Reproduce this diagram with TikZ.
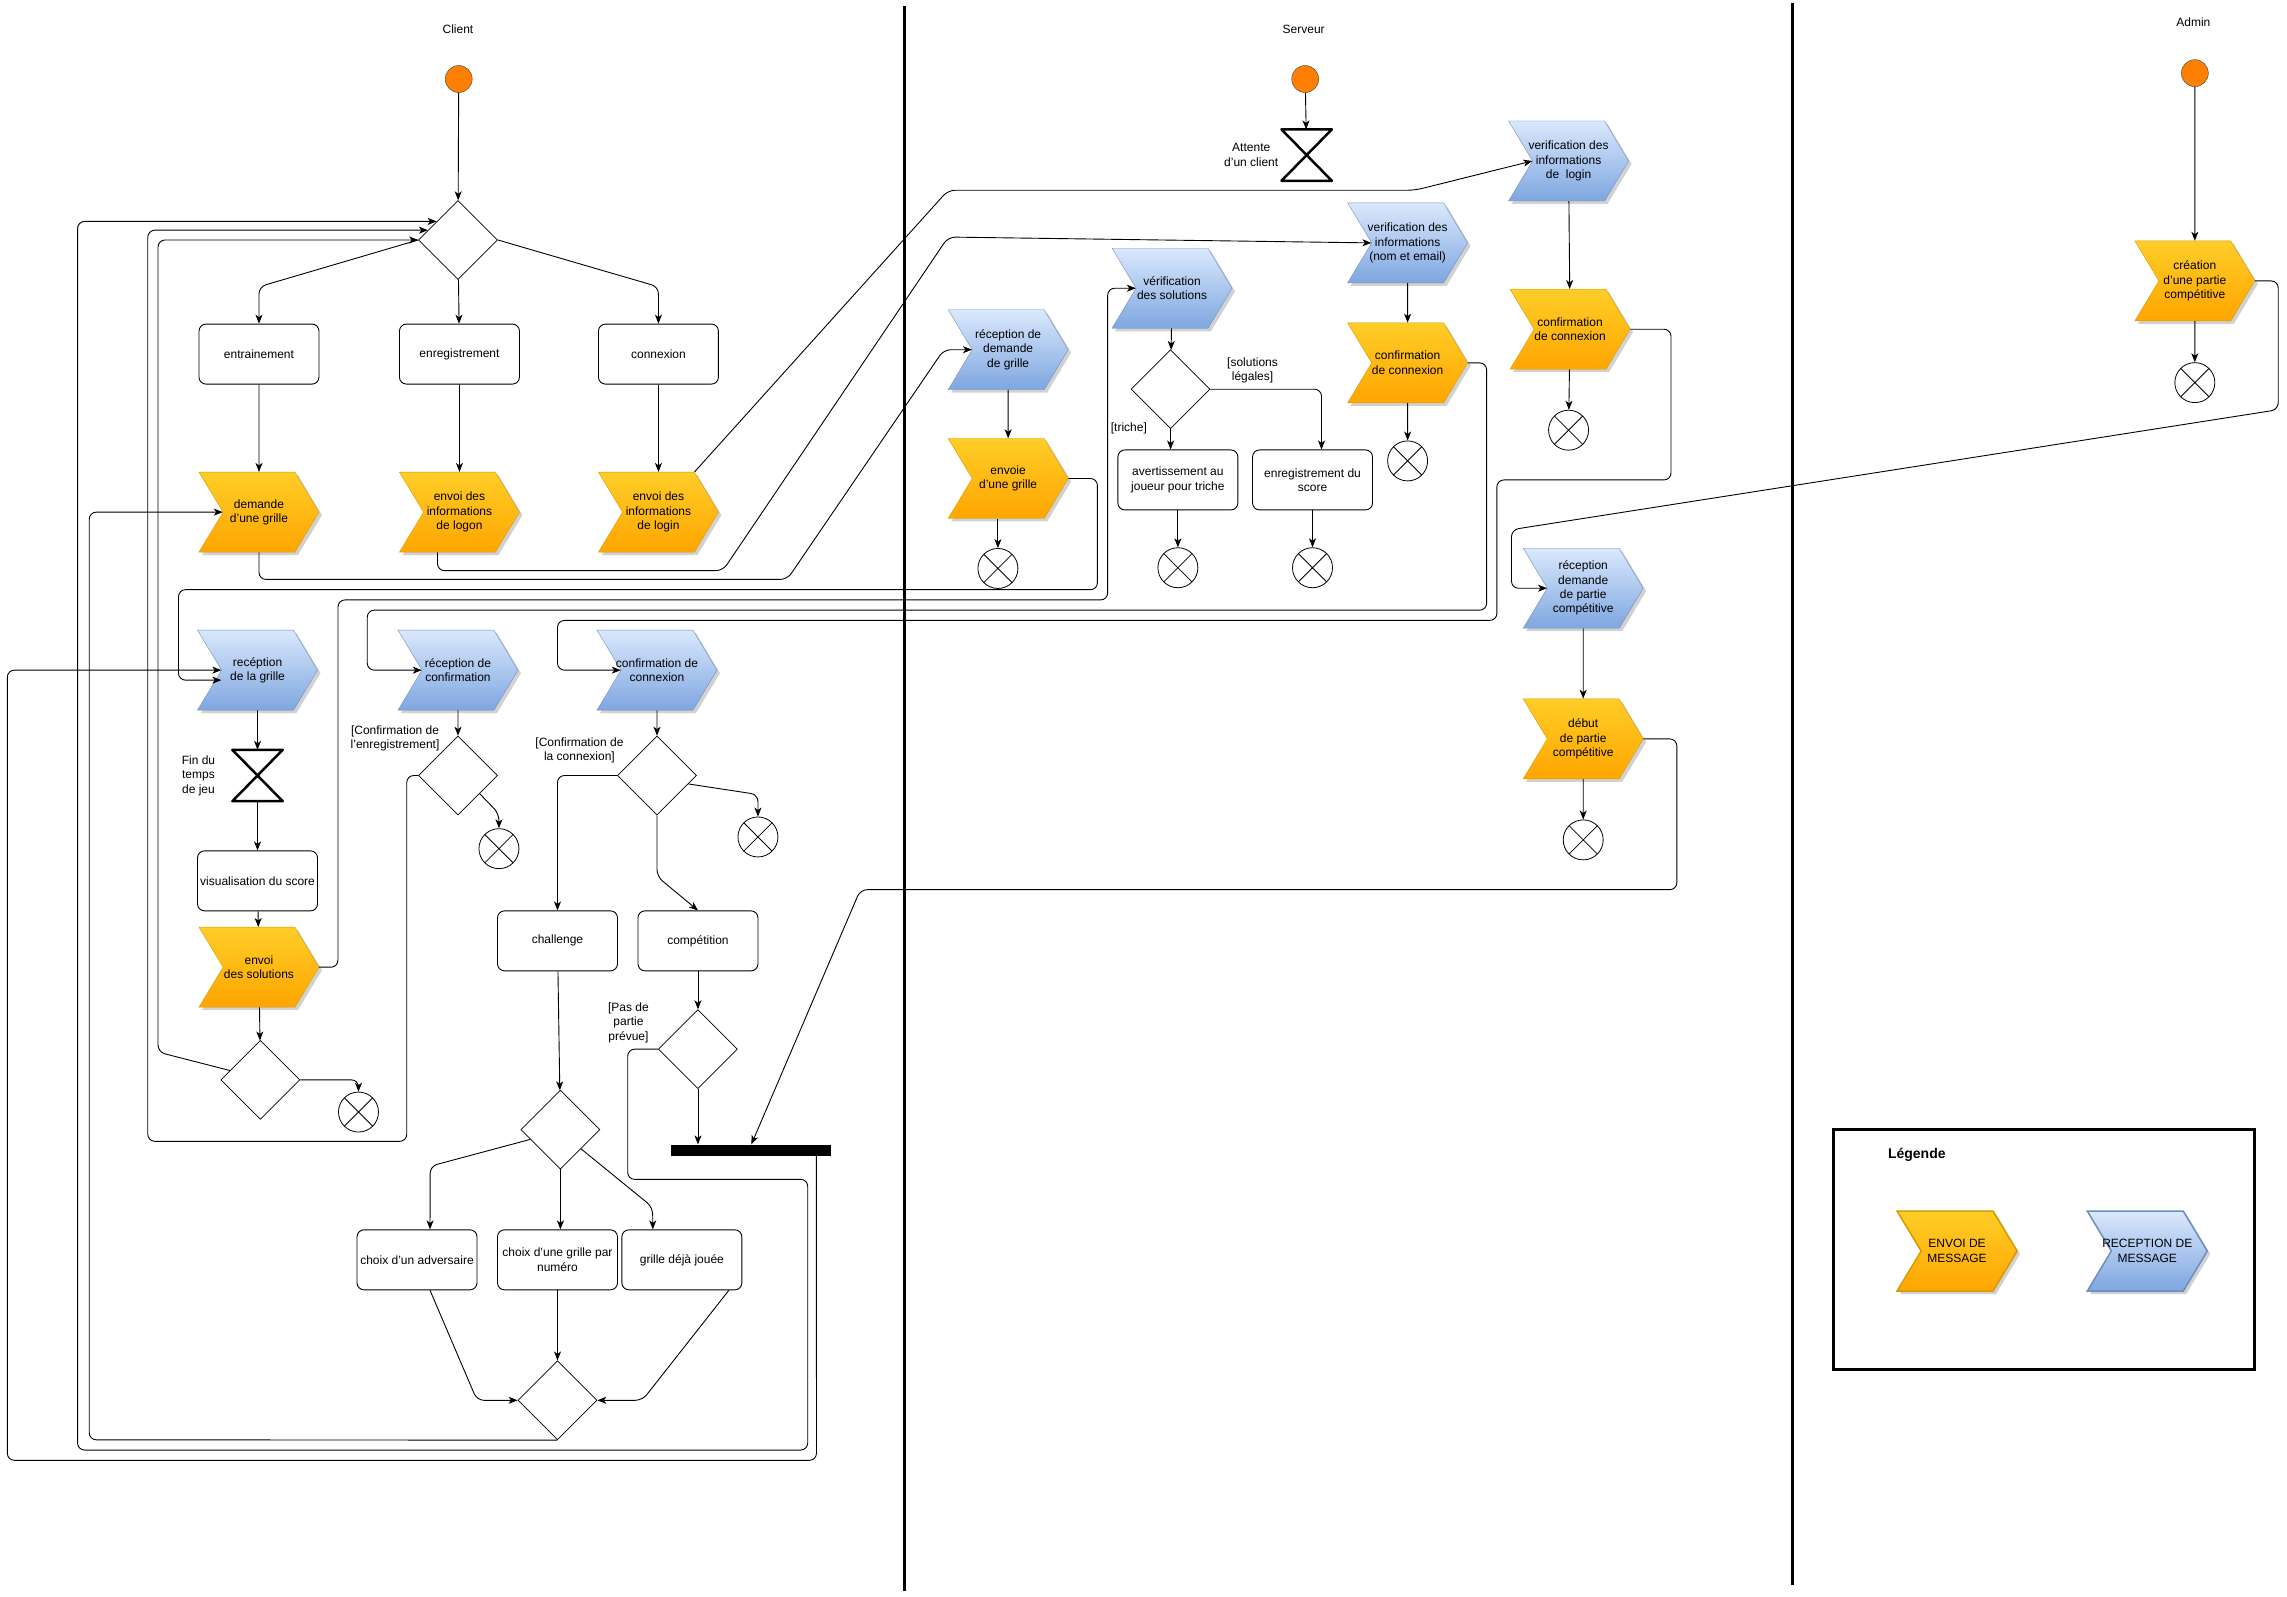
\documentclass[tikz,border=0pt]{standalone}
\usepackage{fontspec}
\setmainfont{Liberation Sans}
\usetikzlibrary{positioning,shapes.geometric,shapes.symbols,arrows.meta,shadows}
\definecolor{sendtop}{HTML}{FFCD28}
\definecolor{sendbot}{HTML}{FFA500}
\definecolor{sendline}{HTML}{D79B00}
\definecolor{recvtop}{HTML}{DAE8FC}
\definecolor{recvbot}{HTML}{7EA6E0}
\definecolor{recvline}{HTML}{6C8EBF}
\definecolor{startfill}{HTML}{FF8000}
\tikzset{
  flow/.style={line width=0.9pt, rounded corners=7pt, -{Stealth[length=9pt,width=7pt,inset=2.5pt]}},
  task/.style={draw, line width=0.9pt, rounded corners=7pt, fill=white, minimum width=120pt, minimum height=60pt, inner sep=1pt, align=center},
  choice/.style={diamond, draw, line width=0.7pt, fill=white, minimum width=79pt, minimum height=79pt, inner sep=0pt},
  send/.style={signal, signal from=west, signal to=east, signal pointer angle=118, minimum width=120pt, minimum height=80pt, inner xsep=-12pt, inner ysep=1pt, align=center, draw=sendline, top color=sendtop, bottom color=sendbot, drop shadow={shadow xshift=3pt, shadow yshift=-3pt, fill=black!30, opacity=.6}},
  recv/.style={send, draw=recvline, top color=recvtop, bottom color=recvbot},
  start/.style={circle, draw=black!75, fill=startfill, minimum size=27pt, inner sep=0pt},
  stop/.style={circle, draw, line width=0.8pt, fill=white, minimum size=40pt, inner sep=0pt,
    path picture={\draw (path picture bounding box.north west) -- (path picture bounding box.south east)
      (path picture bounding box.north east) -- (path picture bounding box.south west);}},
  timer/.style={minimum width=50pt, minimum height=51pt, inner sep=0pt},
  timerline/.style={line width=2.5pt, line join=round},
  bar/.style={fill=black, minimum width=160pt, minimum height=11pt, inner sep=0pt},
  note/.style={align=center, inner sep=1pt},
  lanesep/.style={line width=3.5pt}
}
\begin{document}
\begin{tikzpicture}[x=1.4633pt, y=-1.4633pt, font=\fontsize{12pt}{14.4pt}\selectfont]
  \useasboundingbox (0,0) rectangle (1563,1091);
  \draw[lanesep] (618,4) -- (618,1087);
  \draw[lanesep] (1225,2) -- (1225,1083);

  \node (hclient) at (313,20) {Client};
  \node (hserver) at (891,20) {Serveur};
  \node (hadmin) at (1499,15.5) {Admin};

  \node[start] (sclient) at (313.5,54) {};
  \node[choice] (dmenu) at (313,164) {};
  \node[task] (train) at (177,242) {entrainement};
  \node[task] (reg) at (314,242) {enregistrement};
  \node[task] (conn) at (450,242) {connexion};
  \node[send] (askgrid) at (177,350) {demande\\d'une grille};
  \node[send] (sendlogon) at (314,350) {envoi des\\informations\\de logon};
  \node[send] (sendlogin) at (450,350) {envoi des\\informations\\de login};
  \node[recv] (getgrid) at (176,458) {recéption\\de la grille};
  \node[recv] (getconf) at (313,458) {réception de\\confirmation};
  \node[recv] (getconn) at (449,458) {confirmation de\\connexion};
  \node[timer] (endtime) at (176,530) {};
  \draw[timerline] (endtime.north west) -- (endtime.north east) -- (endtime.south west) -- (endtime.south east) -- cycle;
  \node[note, left=16pt of endtime] {Fin du\\temps\\de jeu};
  \node[task] (showscore) at (176,602) {visualisation du score};
  \node[send] (sendsol) at (177,661) {envoi\\des solutions};
  \node[choice] (dsol) at (178,738) {};
  \node[stop] (esol) at (245,760) {};
  \node[choice] (dconf) at (313,530) {};
  \node[stop] (econf) at (341,580) {};
  \node[note] at (270,504.5) {[Confirmation de\\l'enregistrement]};
  \node[choice] (dconn) at (449,530) {};
  \node[stop] (econn) at (518,572) {};
  \node[note] at (396,513) {[Confirmation de\\la connexion]};
  \node[task] (chal) at (381,643) {challenge};
  \node[task] (comp) at (477,643) {compétition};
  \node[choice] (dcomp) at (477,717) {};
  \node[note] at (429.5,699) {[Pas de\\partie\\prévue]};
  \node[bar] (join) at (513.5,786) {};
  \node[choice] (dchal) at (383,772) {};
  \node[task] (advers) at (285,861) {choix d'un adversaire};
  \node[task] (bynum) at (381,861) {choix d'une grille par\\numéro};
  \node[task] (replay) at (466,861) {grille déjà jouée};
  \node[choice] (dmerge) at (381,957) {};

  \node[start] (sserver) at (892,54) {};
  \node[timer] (wait) at (893,106) {};
  \draw[timerline] (wait.north west) -- (wait.north east) -- (wait.south west) -- (wait.south east) -- cycle;
  \node[note, left=2pt of wait] {Attente\\d'un client};
  \node[recv] (getreq) at (689,239) {réception de\\demande\\de grille};
  \node[send] (sendgrid) at (689,327) {envoie\\d'une grille};
  \node[stop] (esendgrid) at (682,388.5) {};
  \node[recv] (chksol) at (801,197) {vérification\\des solutions};
  \node[choice] (dsolchk) at (800,266) {};
  \node[note] at (856,253) {[solutions\\légales]};
  \node[note] at (771.5,293) {[triche]};
  \node[task] (warn) at (805,328) {avertissement au\\joueur pour triche};
  \node[task] (savescore) at (897,328) {enregistrement du\\score};
  \node[stop] (ewarn) at (805,388) {};
  \node[stop] (escore) at (897,388) {};
  \node[recv] (chkreg) at (962,166) {verification des\\informations\\(nom et email)};
  \node[send] (confreg) at (962,248) {confirmation\\de connexion};
  \node[stop] (econfreg) at (962,315) {};
  \node[recv] (chklogin) at (1072,110) {verification des\\informations\\de\ \ login};
  \node[send] (conflogin) at (1073,225) {confirmation\\de connexion};
  \node[stop] (econflogin) at (1072,294) {};
  \node[recv] (getcomp) at (1082,402) {réception\\demande\\de partie\\compétitive};
  \node[send] (startcomp) at (1082,505) {début\\de partie\\compétitive};
  \node[stop] (estart) at (1082,574) {};

  \node[start] (sadmin) at (1500,50) {};
  \node[send] (create) at (1500,192) {création\\d'une partie\\compétitive};
  \node[stop] (ecreate) at (1500,261.5) {};

  \draw[line width=3pt] (1253,772) rectangle (1541,936);
  \node[font=\fontsize{14pt}{16pt}\selectfont\bfseries] (legtitle) at (1310,789) {Légende};
  \node[send, line width=1.5pt] (legsend) at (1337.5,855) {ENVOI DE\\MESSAGE};
  \node[recv, line width=1.5pt] (legrecv) at (1467.5,855) {RECEPTION DE\\MESSAGE};

  \draw[flow] (sclient) -- (dmenu);
  \draw[flow] (dmenu.west) -- (177,196) -- (train.north);
  \draw[flow] (dmenu) -- (reg);
  \draw[flow] (dmenu.east) -- (450,196) -- (conn.north);
  \draw[flow] (train) -- (askgrid);
  \draw[flow] (reg) -- (sendlogon);
  \draw[flow] (conn) -- (sendlogin);
  \draw[flow] (getgrid) -- (endtime);
  \draw[flow] (endtime) -- (showscore);
  \draw[flow] (showscore) -- (sendsol);
  \draw[flow] (sendsol) -- (dsol);
  \draw[flow] (dsol.east) -- (245,738) -- (esol);
  \draw[flow] (getconf) -- (dconf);
  \draw[flow] (dconf.-40) -- (341,556) -- (econf);
  \draw[flow] (getconn) -- (dconn);
  \draw[flow] (dconn.-15) -- (518,543) -- (econn);
  \draw[flow] (dconn.west) -- (381,530) -- (chal.north);
  \draw[flow] (dconn.south) -- (449,599) -- (comp.north);
  \draw[flow] (comp) -- (dcomp);
  \draw[flow] (dcomp.south) -- (dcomp.south |- join.north);
  \draw[flow] (chal) -- (dchal);
  \draw[flow] (dchal.198) -- (294,797) -- ([xshift=13pt]advers.north);
  \draw[flow] (dchal.south) -- (dchal.south |- bynum.north);
  \draw[flow] (dchal.-43) -- (446,825) -- ([xshift=-29pt]replay.north);
  \draw[flow] ([xshift=13pt]advers.south) -- (326,957) -- (dmerge.west);
  \draw[flow] (bynum) -- (dmerge);
  \draw[flow] ([xshift=47pt]replay.south) -- (439,957) -- (dmerge.east);

  \draw[flow] (dsol.163) -- (108,719) |- (dmenu.west);
  \draw[flow] (dconf.west) -- (278,530) -- (278,780) -- (101,780) |- (dmenu.162);
  \draw[flow] (dcomp.west) -- (429,717) -- (429,806) -- (552,806) -- (552,991) -- (53,991) |- (dmenu.139);
  \draw[flow] (dmerge.south) -- (61,984) |- (askgrid.west);
  \draw[flow] ([xshift=65pt]join.south) -- (558,998) -- (5,998) |- (getgrid.west);

  \draw[flow] (askgrid.south) -- (177,396) -- (538,396) -- (645,239) -- (getreq.west);
  \draw[flow] ([xshift=-22pt]sendlogon.south) -- (299,390) -- (494,390) -- (648,162) -- (chkreg.west);
  \draw[flow] (sendlogin.north east) -- (648,130) -- (967,130) -- (chklogin.west);
  \draw[flow] (sendgrid.east) -- (750,327) -- (750,403) -- (122,403) |- ([yshift=-10pt]getgrid.west);
  \draw[flow] (sendsol.east) -- (231,661) -- (231,410) -- (757,410) |- (chksol.west);
  \draw[flow] (confreg.east) -- (1016,248) -- (1016,417) -- (251,417) |- (getconf.west);
  \draw[flow] (conflogin.east) -- (1142,225) -- (1142,328) -- (1023,328) -- (1023,424) -- (381,424) |- (getconn.west);
  \draw[flow] (create.east) -- (1557,192) -- (1557,280) -- (1033,362) |- (getcomp.west);
  \draw[flow] (startcomp.east) -- (1146,505) -- (1146,608) -- (588,608) -- (join.north);

  \draw[flow] (sserver) -- (wait);
  \draw[flow] (getreq) -- (sendgrid);
  \draw[flow] (esendgrid.north |- sendgrid.south) -- (esendgrid);
  \draw[flow] (chksol) -- (dsolchk);
  \draw[flow] (dsolchk.east) -| ([xshift=9pt]savescore.north);
  \draw[flow] (dsolchk.south) -- (dsolchk.south |- warn.north);
  \draw[flow] (warn) -- (ewarn);
  \draw[flow] (savescore) -- (escore);
  \draw[flow] (chkreg) -- (confreg);
  \draw[flow] (confreg) -- (econfreg);
  \draw[flow] (chklogin) -- (conflogin);
  \draw[flow] (conflogin) -- (econflogin);
  \draw[flow] (getcomp) -- (startcomp);
  \draw[flow] (startcomp) -- (estart);
  \draw[flow] (sadmin) -- (create);
  \draw[flow] (create) -- (ecreate);
\end{tikzpicture}
\end{document}
